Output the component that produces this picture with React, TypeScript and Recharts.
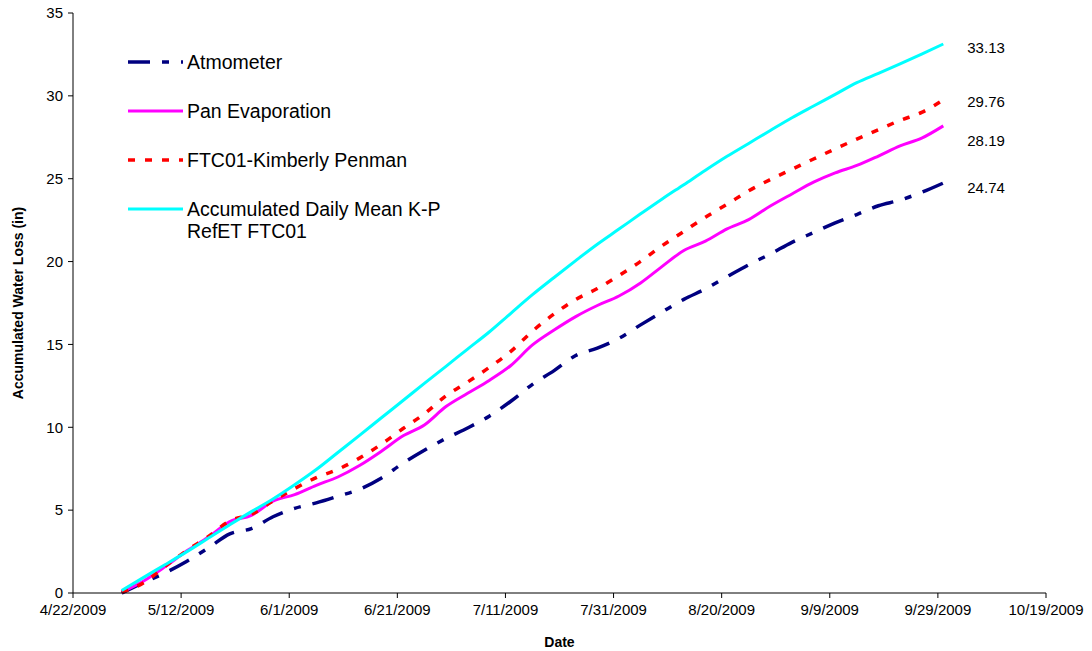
import React from 'react';
import {
  LineChart,
  Line,
  XAxis,
  YAxis,
  Legend,
  Label,
} from 'recharts';

// sample dates (every 4 days)
const sampleDates = [
  '5/1/2009', '5/5/2009', '5/9/2009', '5/13/2009', '5/17/2009', '5/21/2009', '5/25/2009', '5/29/2009',
  '6/2/2009', '6/6/2009', '6/10/2009', '6/14/2009', '6/18/2009', '6/22/2009', '6/26/2009', '6/30/2009',
  '7/4/2009', '7/8/2009', '7/12/2009', '7/16/2009', '7/20/2009', '7/24/2009', '7/28/2009', '8/1/2009',
  '8/5/2009', '8/9/2009', '8/13/2009', '8/17/2009', '8/21/2009', '8/25/2009', '8/29/2009', '9/2/2009',
  '9/6/2009', '9/10/2009', '9/14/2009', '9/18/2009', '9/22/2009', '9/26/2009', '9/30/2009',
];

const atmometer = [
  0.0, 0.62, 1.21, 1.9, 2.71, 3.57, 3.89, 4.6, 5.11, 5.44, 5.84, 6.26, 6.93, 7.82, 8.61, 9.33, 9.96,
  10.67, 11.57, 12.59, 13.42, 14.33, 14.78, 15.37, 16.18, 16.96, 17.72, 18.35, 19.09, 19.81, 20.46,
  21.16, 21.75, 22.34, 22.84, 23.37, 23.71, 24.18, 24.74,
];

const panEvaporation = [
  0.05, 0.71, 1.58, 2.53, 3.36, 4.31, 4.69, 5.54, 5.94, 6.5, 7.0, 7.69, 8.54, 9.47, 10.14, 11.25, 12.05,
  12.83, 13.73, 14.97, 15.87, 16.68, 17.35, 17.92, 18.71, 19.71, 20.67, 21.23, 21.97, 22.53, 23.35,
  24.08, 24.79, 25.35, 25.8, 26.37, 26.98, 27.45, 28.19,
];

const kimberlyPenman = [
  0.05, 0.6, 1.6, 2.55, 3.4, 4.35, 4.75, 5.55, 6.3, 6.96, 7.46, 8.14, 8.97, 9.91, 10.81, 11.9, 12.73,
  13.61, 14.58, 15.8, 16.84, 17.71, 18.37, 19.16, 20.01, 20.96, 21.82, 22.68, 23.46, 24.27, 24.95,
  25.57, 26.19, 26.8, 27.39, 27.96, 28.52, 29.0, 29.76,
];

const dailyMeanKP = [
  0.15, 0.93, 1.7, 2.48, 3.3, 4.12, 4.91, 5.67, 6.53, 7.45, 8.48, 9.51, 10.56, 11.6, 12.65, 13.68, 14.72,
  15.75, 16.88, 18.0, 19.04, 20.06, 21.05, 21.96, 22.88, 23.78, 24.64, 25.51, 26.35, 27.13, 27.91,
  28.68, 29.39, 30.09, 30.8, 31.36, 31.93, 32.52, 33.13,
];

const xTickDates = [
  '4/22/2009', '5/12/2009', '6/1/2009', '6/21/2009', '7/11/2009',
  '7/31/2009', '8/20/2009', '9/9/2009', '9/29/2009', '10/19/2009',
];
const yTicks = [0, 5, 10, 15, 20, 25, 30, 35];

const FONT = '"Liberation Sans", Arial, sans-serif';
const DAY_MS = 86400000;
const ORIGIN = Date.UTC(2009, 3, 22);

const toDay = (s: string) => {
  const [m, d, y] = s.split('/').map(Number);
  return Math.round((Date.UTC(y, m - 1, d) - ORIGIN) / DAY_MS);
};

const fromDay = (day: number) => {
  const dt = new Date(ORIGIN + day * DAY_MS);
  return `${dt.getUTCMonth() + 1}/${dt.getUTCDate()}/${dt.getUTCFullYear()}`;
};

const chartData = sampleDates.map((date, i) => ({
  day: toDay(date),
  atm: atmometer[i],
  pan: panEvaporation[i],
  kp: kimberlyPenman[i],
  mean: dailyMeanKP[i],
}));

const xTicks = xTickDates.map(toDay);
const last = chartData.length - 1;

const SERIES = [
  { key: 'atm', name: 'Atmometer', color: '#000080', dash: '22 12 7 12', width: 3.5, labelDy: 4 },
  { key: 'pan', name: 'Pan Evaporation', color: '#ff00ff', dash: undefined, width: 3, labelDy: 15 },
  { key: 'kp', name: 'FTC01-Kimberly Penman', color: '#ff0000', dash: '7 10', width: 3.5, labelDy: 2 },
  { key: 'mean', name: 'Accumulated Daily Mean K-P RefET FTC01', color: '#00ffff', dash: undefined, width: 3, labelDy: 4 },
];

const endLabel = (dy: number) => (props: any) => {
  if (props.index !== last) return null;
  return (
    <text
      x={props.x + 24}
      y={props.y + dy}
      fontSize={15}
      fontFamily={FONT}
      fill="#000"
      dominantBaseline="central"
    >
      {Number(props.value).toFixed(2)}
    </text>
  );
};

function ChartLegend() {
  return (
    <div style={{ fontFamily: FONT, fontSize: 19.5, color: '#000' }}>
      {SERIES.map((s) => (
        <div key={s.key} style={{ display: 'flex', alignItems: 'flex-start', height: 49 }}>
          <svg width={55} height={22} style={{ flex: 'none' }}>
            <line
              x1={0}
              y1={11}
              x2={55}
              y2={11}
              stroke={s.color}
              strokeWidth={s.width}
              strokeDasharray={s.dash}
            />
          </svg>
          <div style={{ marginLeft: 4, width: 300, lineHeight: '22px' }}>{s.name}</div>
        </div>
      ))}
    </div>
  );
}

export default function App() {
  return (
    <div style={{ position: 'absolute', left: 0, top: 0, width: 1092, height: 651, background: '#fff' }}>
      <LineChart
        width={1092}
        height={651}
        data={chartData}
        margin={{ top: 13, right: 46, bottom: 0, left: 0 }}
      >
        <XAxis
          dataKey="day"
          type="number"
          domain={[0, 180]}
          ticks={xTicks}
          interval={0}
          tickFormatter={fromDay}
          height={58}
          tickSize={5}
          tickMargin={6}
          axisLine={{ stroke: '#000' }}
          tickLine={{ stroke: '#000' }}
          tick={{ fontSize: 15, fontFamily: FONT, fill: '#000' }}
        >
          <Label
            value="Date"
            position="insideBottom"
            offset={4}
            style={{ fontSize: 14, fontWeight: 'bold', fontFamily: FONT, fill: '#000' }}
          />
        </XAxis>
        <XAxis
          xAxisId="top"
          orientation="top"
          type="number"
          domain={[0, 180]}
          height={0}
          tick={false}
          tickLine={false}
          axisLine={{ stroke: '#404040' }}
        />
        <YAxis
          type="number"
          domain={[0, 35]}
          ticks={yTicks}
          interval={0}
          width={73}
          tickSize={5}
          tickMargin={5}
          axisLine={{ stroke: '#000' }}
          tickLine={{ stroke: '#000' }}
          tick={{ fontSize: 15, fontFamily: FONT, fill: '#000' }}
        >
          <Label
            content={({ viewBox }: any) => {
              const cx = viewBox.x + 18;
              const cy = viewBox.y + viewBox.height / 2;
              return (
                <text
                  x={cx}
                  y={cy}
                  transform={`rotate(-90 ${cx} ${cy})`}
                  textAnchor="middle"
                  dominantBaseline="central"
                  fontSize={14}
                  fontWeight="bold"
                  fontFamily={FONT}
                  fill="#000"
                >
                  Accumulated Water Loss (in)
                </text>
              );
            }}
          />
        </YAxis>
        <YAxis
          yAxisId="right"
          orientation="right"
          type="number"
          domain={[0, 35]}
          width={0}
          tick={false}
          tickLine={false}
          axisLine={{ stroke: '#404040' }}
        />
        <Legend
          layout="vertical"
          align="center"
          verticalAlign="middle"
          content={() => <ChartLegend />}
          wrapperStyle={{ left: 128, top: 51, width: 400, height: 'auto' }}
        />
        {SERIES.map((s) => (
          <Line
            key={s.key}
            dataKey={s.key}
            name={s.name}
            type="monotone"
            stroke={s.color}
            strokeWidth={s.width}
            strokeDasharray={s.dash}
            dot={false}
            activeDot={false}
            isAnimationActive={false}
            label={endLabel(s.labelDy)}
          />
        ))}
      </LineChart>
    </div>
  );
}
